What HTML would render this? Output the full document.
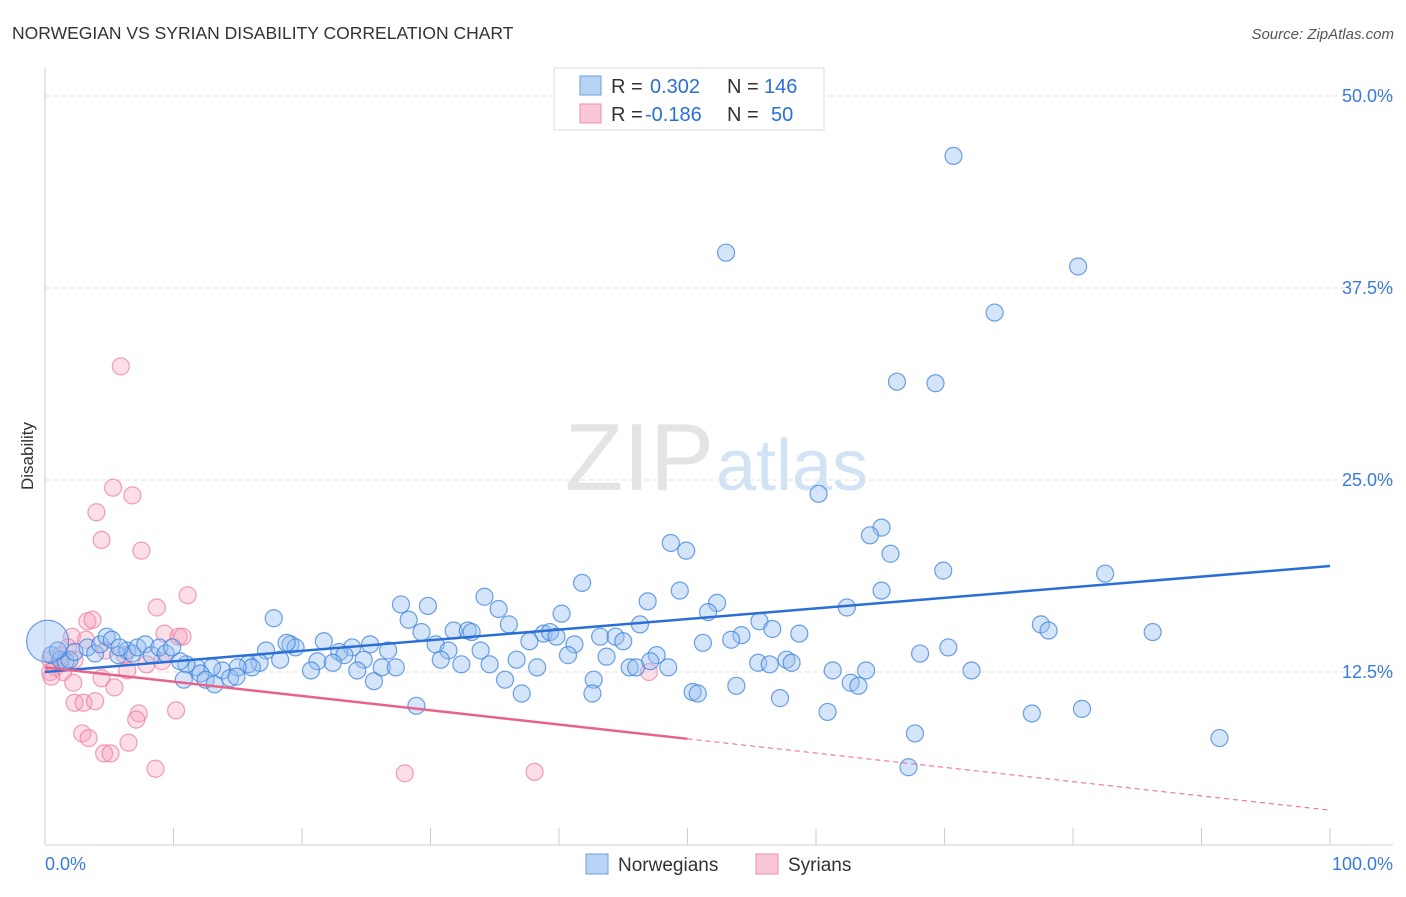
<!DOCTYPE html>
<html><head><meta charset="utf-8"><style>
body{margin:0;background:#fff;font-family:"Liberation Sans",sans-serif;}
svg text{font-family:"Liberation Sans",sans-serif;}
</style></head><body>
<svg id="chart" width="1406" height="892" xmlns="http://www.w3.org/2000/svg">
<text x="12" y="39" font-size="17.5" fill="#333">NORWEGIAN VS SYRIAN DISABILITY CORRELATION CHART</text>
<text x="1394" y="39" font-size="15" fill="#555" text-anchor="end" font-style="italic">Source: ZipAtlas.com</text>
<text x="714" y="490" font-size="96" fill="#e4e4e4" text-anchor="end" font-family="Liberation Serif">ZIP</text>
<text x="716" y="490" font-size="72" fill="#d3e3f6">atlas</text>
<g id="grid"></g><g id="axes"></g><g id="pts"></g><g id="lines"></g>
<text x="33" y="456" font-size="17" fill="#333" transform="rotate(-90 33 456)" text-anchor="middle">Disability</text>
<g>
<rect x="554" y="68" width="270" height="62" fill="#fff" stroke="#ddd"/>
<rect x="580" y="76" width="21" height="19" fill="#b8d3f3" stroke="#6a9fe0"/>
<rect x="580" y="104" width="21" height="19" fill="#f9c7d6" stroke="#ee8fad"/>
<text x="611" y="93" font-size="20" fill="#333">R =</text>
<text x="650" y="93" font-size="20" fill="#2a6fd6">0.302</text>
<text x="727" y="93" font-size="20" fill="#333">N =</text>
<text x="764" y="93" font-size="20" fill="#2a6fd6">146</text>
<text x="611" y="121" font-size="20" fill="#333">R =</text>
<text x="645" y="121" font-size="20" fill="#2a6fd6">-0.186</text>
<text x="727" y="121" font-size="20" fill="#333">N =</text>
<text x="771" y="121" font-size="20" fill="#2a6fd6">50</text>
</g>
<g>
<rect x="586" y="854" width="22" height="20" fill="#b8d3f3" stroke="#6a9fe0"/>
<text x="618" y="871" font-size="19" fill="#333">Norwegians</text>
<rect x="756" y="854" width="22" height="20" fill="#f9c7d6" stroke="#ee8fad"/>
<text x="788" y="871" font-size="19" fill="#333">Syrians</text>
</g>
</svg>
<script>
const yTicks=[12.5,25,37.5,50];
const yTickLabels=["12.5%","25.0%","37.5%","50.0%"];
const xTickLabels=["0.0%","100.0%"];
const blueX=[70.7,53.0,80.4,73.9,66.3,69.3,60.2,65.1,64.2,48.7,49.9,65.8,69.9,82.5,41.8,49.4,65.1,34.2,46.9,52.3,27.7,29.8,35.3,62.4,51.6,40.2,17.8,28.3,36.1,55.6,46.3,77.5,78.1,86.2,58.7,56.6,54.2,29.3,31.8,32.9,33.2,38.8,39.3,39.8,43.2,44.4,45.0,53.4,51.2,37.7,41.2,30.4,33.9,21.7,19.1,19.5,18.8,17.2,25.3,26.7,23.9,22.9,23.3,24.8,31.4,30.8,32.4,34.6,36.7,38.3,40.7,43.7,45.5,46.0,47.6,47.1,48.5,55.5,56.4,57.7,58.1,61.3,63.9,68.1,70.3,72.1,21.2,22.4,24.3,26.2,27.3,20.7,18.3,16.7,15.8,16.1,15.0,13.8,13.0,11.8,11.0,10.5,12.1,10.8,12.5,13.2,14.4,14.9,25.6,35.8,42.7,62.7,63.3,53.8,50.4,50.8,42.6,37.1,57.2,28.9,60.9,76.8,80.7,67.7,91.4,67.2,0.5,1.2,1.6,1.9,1.0,2.3,3.3,3.9,4.3,4.8,5.2,5.7,6.4,6.8,7.2,7.8,8.3,8.9,9.4,9.9,5.8];
const blueY=[46.1,39.8,38.9,35.9,31.4,31.3,24.1,21.9,21.4,20.9,20.4,20.2,19.1,18.9,18.3,17.8,17.8,17.4,17.1,17.0,16.9,16.8,16.6,16.7,16.4,16.3,16.0,15.9,15.6,15.8,15.6,15.6,15.2,15.1,15.0,15.3,14.9,15.1,15.2,15.2,15.1,15.0,15.1,14.8,14.8,14.8,14.5,14.6,14.4,14.5,14.3,14.3,13.9,14.5,14.3,14.1,14.4,13.9,14.3,13.9,14.1,13.8,13.6,13.3,13.9,13.3,13.0,13.0,13.3,12.8,13.6,13.5,12.8,12.8,13.6,13.2,12.8,13.1,13.0,13.3,13.1,12.6,12.6,13.7,14.1,12.6,13.2,13.1,12.6,12.8,12.8,12.6,13.3,13.1,13.0,12.8,12.8,12.6,12.8,12.8,13.0,13.2,12.4,12.0,12.0,11.7,12.1,12.2,11.9,12.0,12.0,11.8,11.6,11.6,11.2,11.1,11.1,11.1,10.8,10.3,9.9,9.8,10.1,8.5,8.2,6.3,13.6,13.3,13.2,13.3,13.9,13.8,14.1,13.7,14.3,14.8,14.6,13.6,13.9,13.7,14.1,14.3,13.6,14.1,13.7,14.1,14.1];
const pinkX=[5.9,5.3,6.8,4.0,4.4,7.5,11.1,8.7,3.3,3.7,9.3,10.4,10.7,2.1,3.2,4.7,6.2,9.1,7.9,6.4,0.4,0.8,1.4,2.3,1.2,0.4,0.5,4.4,2.2,5.4,2.3,3.0,3.9,10.2,7.3,7.1,2.9,3.4,6.5,4.6,5.1,8.6,28.0,38.1,47.0,1.8];
const pinkY=[32.4,24.5,24.0,22.9,21.1,20.4,17.5,16.7,15.8,15.9,15.0,14.8,14.8,14.8,14.6,13.9,13.6,13.2,13.0,12.6,13.3,12.8,12.5,13.3,13.6,12.5,12.2,12.1,11.8,11.5,10.5,10.5,10.6,10.0,9.8,9.4,8.5,8.2,7.9,7.2,7.2,6.2,5.9,6.0,12.5,14.1];
const blueTrend=[12.5,19.4];
const pinkTrend=[12.8,3.5];
const NS="http://www.w3.org/2000/svg";
const X=v=>45+v*12.85, Y=v=>864-v*15.36;
function mk(tag,attrs,parent){const e=document.createElementNS(NS,tag);for(const k in attrs)e.setAttribute(k,attrs[k]);document.getElementById(parent).appendChild(e);return e;}
yTicks.forEach((t,i)=>{
 const g=mk('line',{x1:45,x2:1393,y1:Y(t),y2:Y(t),stroke:'#ddd','stroke-dasharray':'4,4'},'grid');
 
 
 const tx=mk('text',{x:1393,y:Y(t)+6,'font-size':18,fill:'#3a7ad9','text-anchor':'end'},'grid');
 tx.textContent=yTickLabels[i];
 
 
});
const ax=mk('line',{x1:45,x2:45,y1:68,y2:845,stroke:'#ccc'},'axes');


const bx=mk('line',{x1:45,x2:1393,y1:845,y2:845,stroke:'#ccc'},'axes');


for(let i=1;i<=10;i++){const t=mk('line',{x1:X(i*10),x2:X(i*10),y1:828,y2:845,stroke:'#ccc'},'axes');
 
 }
[[0,'start',45],[100,'end',1393]].forEach((a,i)=>{const t=mk('text',{x:a[2],y:870,'font-size':18,fill:'#3a7ad9','text-anchor':a[1]},'axes');t.textContent=xTickLabels[i];
 
 });
pinkX.forEach((x,i)=>{const c=mk('circle',{cx:X(x),cy:Y(pinkY[i]),r:8.5,fill:'rgba(245,160,185,0.35)',stroke:'rgba(235,120,155,0.7)','stroke-width':1.2},'pts');
 
 });
blueX.forEach((x,i)=>{const c=mk('circle',{cx:X(x),cy:Y(blueY[i]),r:8.5,fill:'rgba(150,190,240,0.4)',stroke:'rgba(60,130,220,0.75)','stroke-width':1.2},'pts');
 
 });
const big=mk('circle',{cx:X(0.2),cy:Y(14.5),r:21,fill:'rgba(150,190,240,0.4)',stroke:'rgba(60,130,220,0.75)','stroke-width':1.2},'pts');


const bl=mk('line',{x1:X(0),y1:Y(blueTrend[0]),x2:X(100),y2:Y(blueTrend[1]),stroke:'#2b6fd6','stroke-width':2.5},'lines');


const pm=pinkTrend[0]+(pinkTrend[1]-pinkTrend[0])*0.5;
const pl=mk('line',{x1:X(0),y1:Y(pinkTrend[0]),x2:X(50),y2:Y(pm),stroke:'#e8628e','stroke-width':2.5},'lines');


const pd=mk('line',{x1:X(50),y1:Y(pm),x2:X(100),y2:Y(pinkTrend[1]),stroke:'#e8628e','stroke-width':1,'stroke-dasharray':'5,4'},'lines');


</script>
</body></html>
